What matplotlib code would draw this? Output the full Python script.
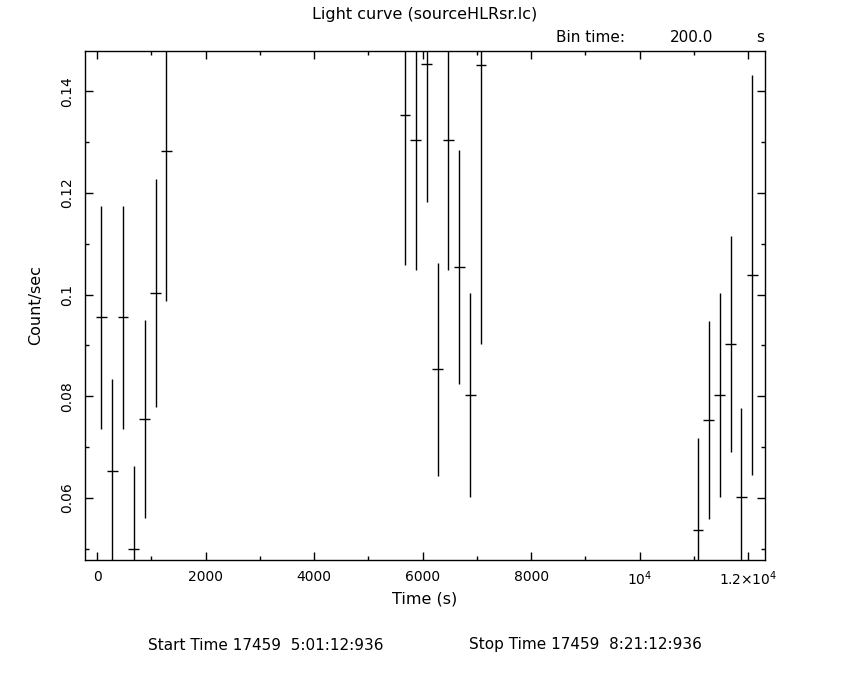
import matplotlib
matplotlib.use("Agg")
import matplotlib.pyplot as plt
from matplotlib.ticker import MultipleLocator, FixedLocator

# light curve bins (centre time, rate, 1-sigma error), bin = 200 s
time = [75, 275, 475, 675, 875, 1075, 1275,
        5675, 5875, 6075, 6275, 6475, 6675, 6875, 7075,
        11075, 11275, 11475, 11675, 11875, 12075]
rate = [0.0955, 0.0653, 0.0955, 0.0500, 0.0755, 0.1003, 0.1282,
        0.1353, 0.1304, 0.1454, 0.0853, 0.1304, 0.1054, 0.0802, 0.1451,
        0.0537, 0.0753, 0.0802, 0.0903, 0.0602, 0.1038]
rate_err = [0.0219, 0.0181, 0.0219, 0.0162, 0.0195, 0.0225, 0.0295,
            0.0295, 0.0256, 0.0272, 0.0209, 0.0256, 0.0230, 0.0201, 0.0549,
            0.0180, 0.0195, 0.0201, 0.0213, 0.0175, 0.0393]
half_bin = [100] * len(time)

xticks = [0, 2000, 4000, 6000, 8000, 10000, 12000]
xtick_labels = ['0', '2000', '4000', '6000', '8000', r'$10^4$', r'$1.2{\times}10^4$']
yticks = [0.06, 0.08, 0.10, 0.12, 0.14]
ytick_labels = ['0.06', '0.08', '0.1', '0.12', '0.14']

W, H = 850, 680
fig = plt.figure(figsize=(W / 100, H / 100), dpi=100)
ax = fig.add_axes([85 / W, 1 - 560 / H, 680 / W, 509 / H])

ax.errorbar(time, rate, yerr=rate_err, xerr=half_bin, fmt='none',
            ecolor='black', elinewidth=1.0, capsize=0)

ax.set_xlim(-225, 12310)
ax.set_ylim(0.0478, 0.1479)

ax.xaxis.set_major_locator(FixedLocator(xticks))
ax.set_xticklabels(xtick_labels)
ax.xaxis.set_minor_locator(MultipleLocator(1000))
ax.yaxis.set_major_locator(FixedLocator(yticks))
ax.set_yticklabels(ytick_labels, rotation=90, va='center')
ax.yaxis.set_minor_locator(MultipleLocator(0.01))

ax.tick_params(which='both', direction='in', top=True, right=True,
               labelsize=10, width=1.0, colors='black')
ax.tick_params(which='major', length=6)
ax.tick_params(which='minor', length=3)
ax.tick_params(axis='x', pad=7)
ax.tick_params(axis='y', pad=8)
for sp in ax.spines.values():
    sp.set_linewidth(1.0)

fs = 11.5
ax.set_xlabel('Time (s)', fontsize=fs, labelpad=2)
ax.set_ylabel('Count/sec', fontsize=fs, labelpad=12)

fig.text(425 / W, 1 - 15 / H, 'Light curve (sourceHLRsr.lc)',
         ha='center', va='center', fontsize=fs)
fig.text(556 / W, 1 - 37 / H, 'Bin time:', ha='left', va='center', fontsize=11)
fig.text(713 / W, 1 - 37 / H, '200.0', ha='right', va='center', fontsize=11)
fig.text(760 / W, 1 - 37 / H, 's', ha='center', va='center', fontsize=11)

# footer: start part flush left, stop part flush right as in the reference
fig.text(148 / W, 1 - 645 / H, 'Start Time 17459  5:01:12:936',
         ha='left', va='center', fontsize=11)
fig.text(702 / W, 1 - 645 / H, 'Stop Time 17459  8:21:12:936',
         ha='right', va='center', fontsize=11)

fig.savefig('out.png', dpi=100)
